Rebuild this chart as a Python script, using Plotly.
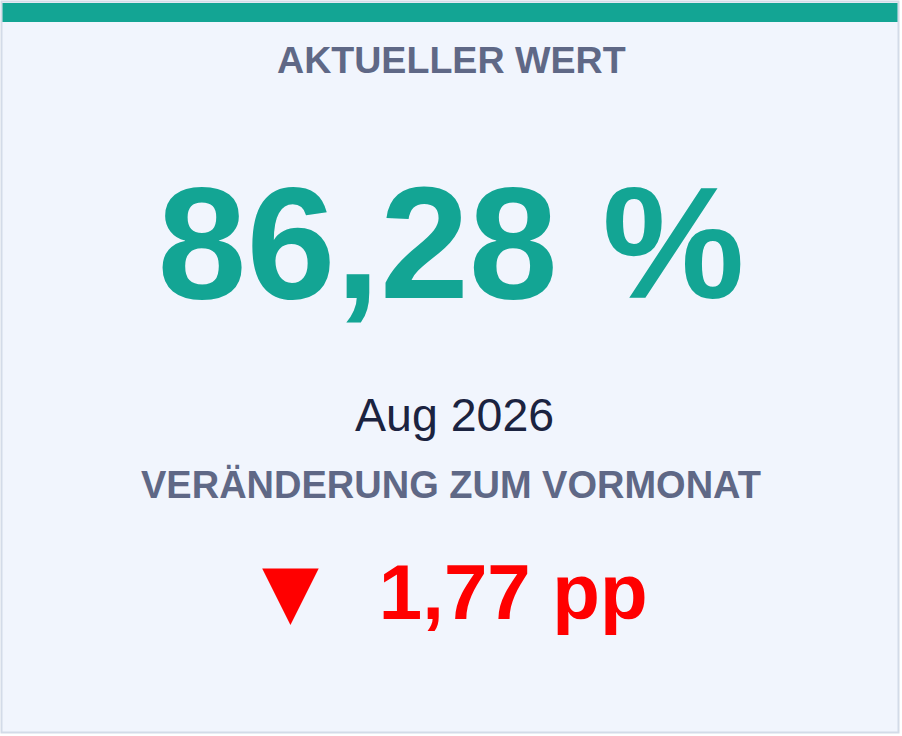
import plotly.graph_objects as go

# KPI values
current_value = 86.28
previous_value = 88.05   # previous month, so the change is -1.77 pp
period_label = "Aug 2026"
card_title = "AKTUELLER WERT"
change_title = "VERÄNDERUNG ZUM VORMONAT"

FONT = "Liberation Sans, Arial, sans-serif"
TEAL = "#13a594"
LABEL_GREY = "#5f6886"
BG = "#f1f5fd"
BORDER = "#d3dbe8"

W, H = 902, 736

change = round(current_value - previous_value, 2)
arrow = "▼" if change < 0 else "▲"
change_color = "#ff0000" if change < 0 else TEAL

fig = go.Figure()

# big number
fig.add_trace(go.Indicator(
    mode="number",
    value=current_value,
    number=dict(valueformat=".2f", suffix=" %",
                font=dict(family=FONT, size=160, color=TEAL, weight="bold")),
    domain=dict(x=[0, 1], y=[0.51, 0.83]),
))

# change vs previous month (absolute value, direction shown by the arrow)
fig.add_trace(go.Indicator(
    mode="number",
    value=abs(change),
    number=dict(valueformat=".2f", suffix=" pp",
                font=dict(family=FONT, size=78, color=change_color, weight="bold")),
    domain=dict(x=[0.169, 0.969], y=[0.04, 0.35]),
))

labels = [
    (card_title, 0.5, 0.918, 37.6, LABEL_GREY, "bold"),
    (period_label, 0.504, 0.436, 46.5, "#1b2340", "normal"),
    (change_title, 0.5, 0.341, 38, LABEL_GREY, "bold"),
]
for txt, xpos, ypos, size, color, weight in labels:
    fig.add_annotation(text=txt, x=xpos, y=ypos, xref="paper", yref="paper",
                       xanchor="center", yanchor="middle", showarrow=False,
                       font=dict(family=FONT, size=size, color=color, weight=weight))

# direction arrow in front of the change value
fig.add_annotation(text=arrow, x=0.3226, y=0.199, xref="paper", yref="paper",
                   xanchor="center", yanchor="middle", showarrow=False,
                   font=dict(family="DejaVu Sans", size=74, color=change_color))

# card border + top accent bar
fig.add_shape(type="rect", xref="paper", yref="paper",
              x0=1.5 / W, x1=1 - 3.5 / W, y0=3.5 / H, y1=1 - 1.5 / H,
              line=dict(color=BORDER, width=2), fillcolor=BG, layer="below")
fig.add_shape(type="rect", xref="paper", yref="paper",
              x0=2.5 / W, x1=1 - 4.5 / W, y0=1 - 22 / H, y1=1 - 3 / H,
              line=dict(width=0), fillcolor=TEAL)

fig.update_layout(
    width=W, height=H,
    margin=dict(l=0, r=0, t=0, b=0),
    paper_bgcolor="white",
    plot_bgcolor="white",
    separators=",.",
    showlegend=False,
)

fig.write_html("out.html", config={"displayModeBar": False},
               post_script="document.body.style.margin = '0';")
